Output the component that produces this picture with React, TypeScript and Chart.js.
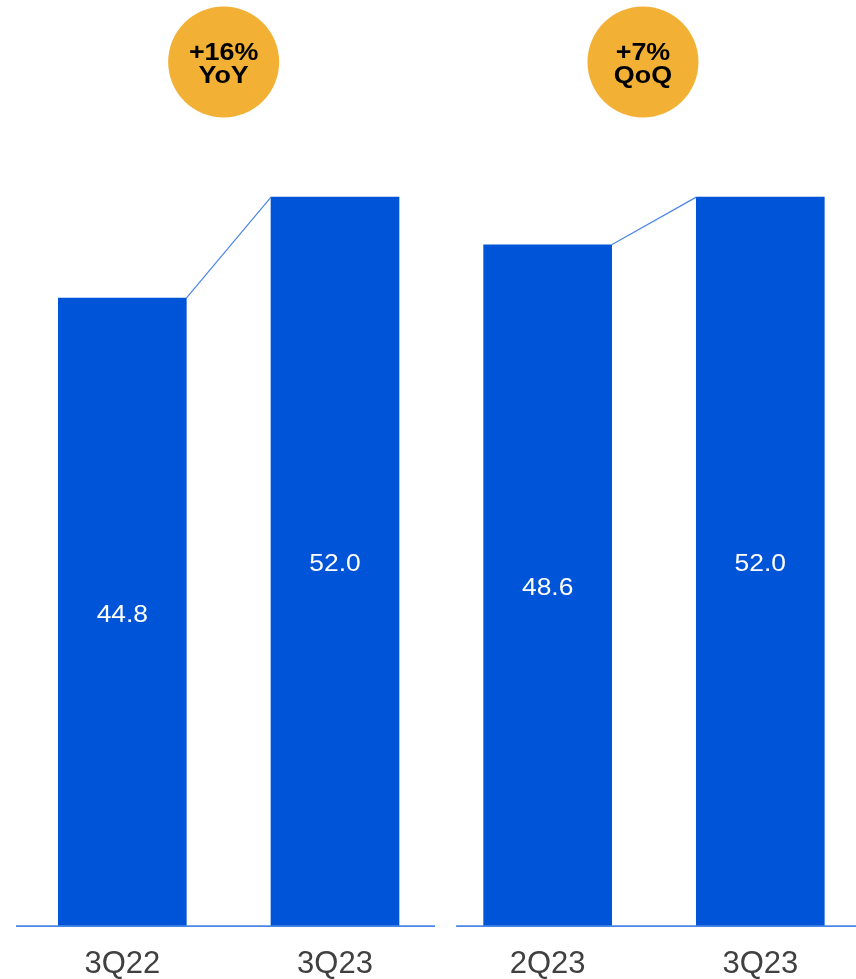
import React, { useEffect, useRef } from "react";
import { Chart, registerables } from "chart.js";

Chart.register(...registerables);

const categories = ["3Q22", "3Q23", "2Q23", "3Q23"];
const values = [44.8, 52.0, 48.6, 52.0];
const pairs = [
  [0, 1],
  [2, 3],
];
const badgeLines = [
  ["+16%", "YoY"],
  ["+7%", "QoQ"],
];

const BAR_COLOR = "#0054D8";
const LINE_COLOR = "#4A86E8";
const BADGE_COLOR = "#F2B134";
const FONT = "'Liberation Sans', Arial, Helvetica, sans-serif";

const decorPlugin = {
  id: "decor",
  afterDatasetsDraw(chart: any) {
    const ctx = chart.ctx;
    const xs = chart.scales.x;
    const area = chart.chartArea;
    const meta = chart.getDatasetMeta(0);
    const bars = meta.data;

    // connectors
    ctx.save();
    ctx.strokeStyle = LINE_COLOR;
    ctx.lineWidth = 1.2;
    pairs.forEach(([a, b]) => {
      const ba = bars[a];
      const bb = bars[b];
      ctx.beginPath();
      ctx.moveTo(ba.x + ba.width / 2, ba.y);
      ctx.lineTo(bb.x - bb.width / 2, bb.y);
      ctx.stroke();
    });
    ctx.restore();

    // baselines
    ctx.save();
    ctx.strokeStyle = LINE_COLOR;
    ctx.lineWidth = 1.7;
    const y = area.bottom + 0.2;
    ctx.beginPath();
    ctx.moveTo(area.left, y);
    ctx.lineTo(xs.getPixelForValue(1) + 100, y);
    ctx.moveTo(xs.getPixelForValue(2) - 91.5, y);
    ctx.lineTo(area.right, y);
    ctx.stroke();
    ctx.restore();

    // value labels
    ctx.save();
    ctx.fillStyle = "#FFFFFF";
    ctx.font = `24px ${FONT}`;
    ctx.textAlign = "center";
    ctx.textBaseline = "middle";
    bars.forEach((bar: any, i: number) => {
      const cy = (bar.y + bar.base) / 2;
      ctx.save();
      ctx.translate(bar.x, cy + 3);
      ctx.scale(1.1, 1);
      ctx.fillText(values[i].toFixed(1), 0, 0);
      ctx.restore();
    });
    ctx.restore();

    // badges
    const offsets = [-5, -11];
    pairs.forEach(([a, b], k) => {
      const cx = (xs.getPixelForValue(a) + xs.getPixelForValue(b)) / 2 + offsets[k];
      const cy = 62;
      ctx.save();
      ctx.fillStyle = BADGE_COLOR;
      ctx.beginPath();
      ctx.arc(cx, cy, 55.5, 0, Math.PI * 2);
      ctx.fill();
      ctx.fillStyle = "#000000";
      ctx.font = `bold 24px ${FONT}`;
      ctx.textAlign = "center";
      ctx.textBaseline = "alphabetic";
      const lines = badgeLines[k];
      [cy - 2, cy + 21].forEach((ly, j) => {
        ctx.save();
        ctx.translate(cx, ly);
        ctx.scale(1.12, 1);
        ctx.fillText(lines[j], 0, 0);
        ctx.restore();
      });
      ctx.restore();
    });
  },
};

export default function App() {
  const ref = useRef<HTMLCanvasElement | null>(null);

  useEffect(() => {
    if (!ref.current) return;
    const chart = new Chart(ref.current, {
      type: "bar",
      data: {
        datasets: [
          {
            data: values.map((v, i) => ({ x: i, y: v })) as any,
            backgroundColor: BAR_COLOR,
            borderWidth: 0,
            barThickness: 128,
          },
        ],
      },
      options: {
        responsive: false,
        animation: false,
        layout: { padding: { left: 16, right: 0, top: 85, bottom: 0 } },
        plugins: {
          legend: { display: false },
          tooltip: { enabled: false },
        },
        scales: {
          x: {
            type: "linear",
            min: -0.5,
            max: 3.45,
            offset: false,
            grid: { display: false, drawTicks: false, offset: false },
            border: { display: false },
            afterBuildTicks: (scale: any) => {
              scale.ticks = categories.map((_, i) => ({ value: i }));
            },
            ticks: {
              autoSkip: false,
              maxRotation: 0,
              padding: 23,
              color: "#404040",
              font: { family: FONT, size: 31, lineHeight: 1 },
              callback: (v: any) => categories[v] ?? "",
            },
          },
          y: {
            display: false,
            min: 0,
            max: 60,
          },
        },
      },
      plugins: [decorPlugin],
    });
    return () => chart.destroy();
  }, []);

  return (
    <div
      style={{
        position: "absolute",
        left: 0,
        top: 0,
        width: 856,
        height: 979,
        overflow: "hidden",
      }}
    >
      <canvas ref={ref} width={856} height={1003} />
    </div>
  );
}
